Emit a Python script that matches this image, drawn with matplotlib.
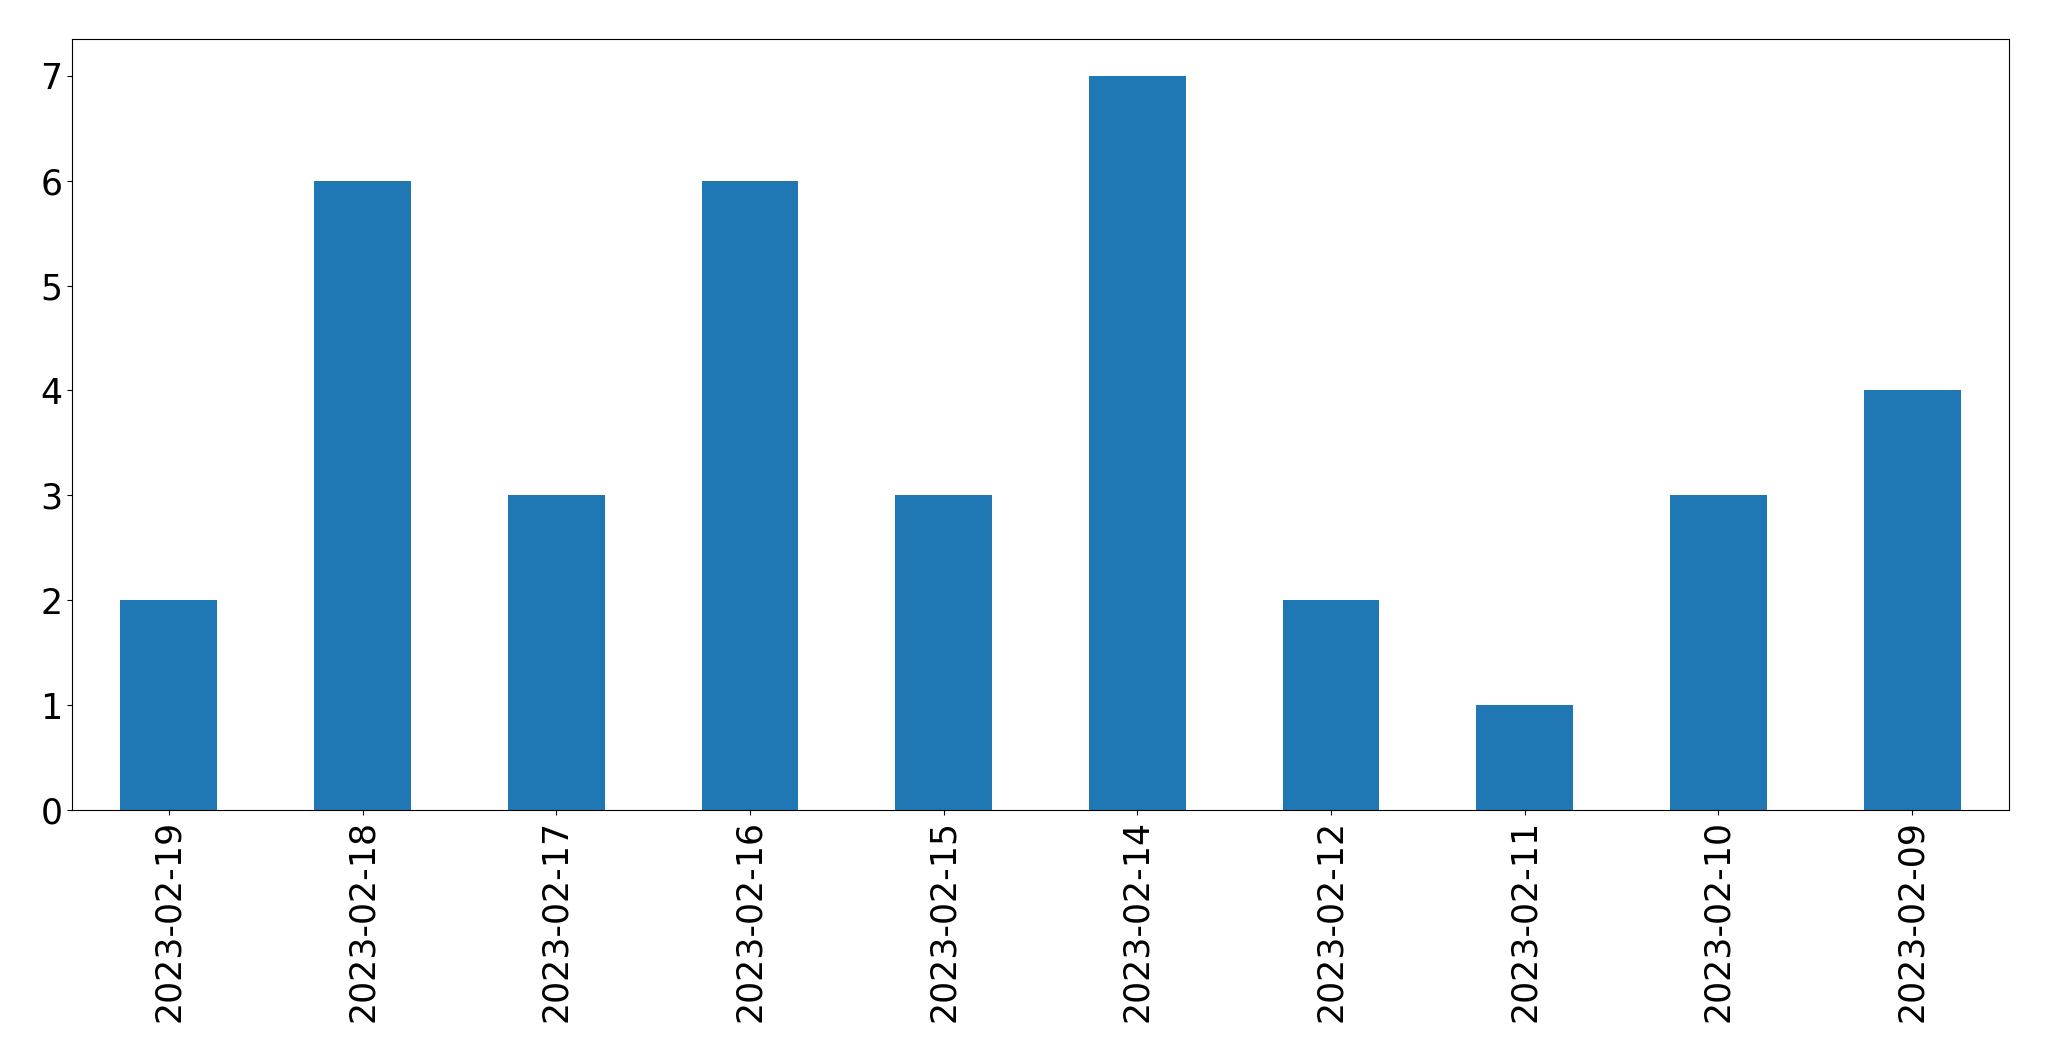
import matplotlib
matplotlib.use("Agg")
import matplotlib.pyplot as plt

dates = ["2023-02-19", "2023-02-18", "2023-02-17", "2023-02-16", "2023-02-15",
         "2023-02-14", "2023-02-12", "2023-02-11", "2023-02-10", "2023-02-09"]
counts = [2, 6, 3, 6, 3, 7, 2, 1, 3, 4]

fig = plt.figure(figsize=(20.49, 10.61), dpi=100)
ax = fig.add_axes([72/2049, 1 - 810/1061, (2009-72)/2049, (810-39)/1061])
x = list(range(len(dates)))
ax.bar(x, counts, width=0.5, color="#1f77b4")
ax.set_xlim(-0.5, len(dates) - 0.5)
ax.set_ylim(0, max(counts) * 1.05)
ax.set_xticks(x)
ax.set_xticklabels(dates, rotation=90)
ax.tick_params(axis="both", labelsize=25)
fig.savefig("out.png", dpi=100)
